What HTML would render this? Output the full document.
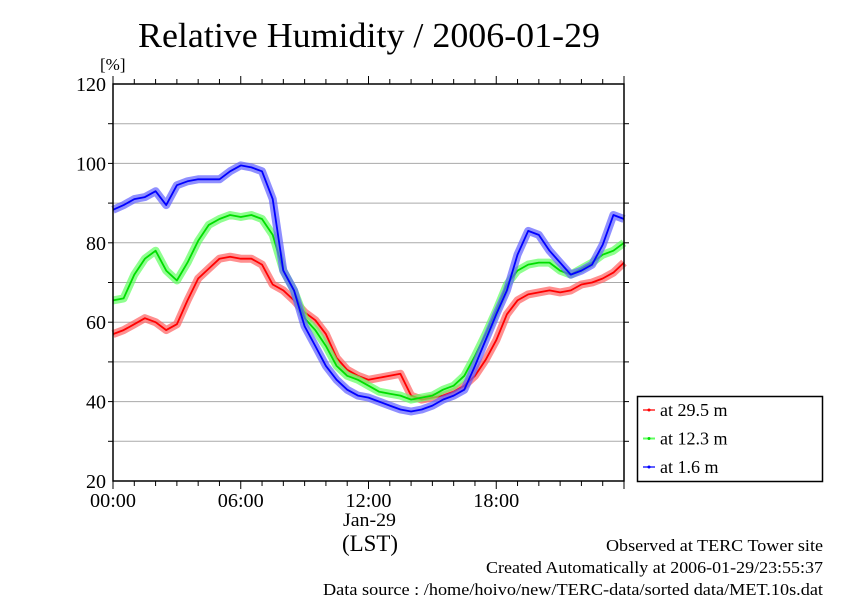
<!DOCTYPE html>
<html><head><meta charset="utf-8"><style>
body{margin:0;background:#fff;width:842px;height:595px;overflow:hidden}
svg{display:block;font-family:"Liberation Serif",serif}
</style></head><body>
<svg id="chart" width="842" height="595">
<text x="138" y="47" font-size="35" textLength="462" lengthAdjust="spacingAndGlyphs">Relative Humidity / 2006-01-29</text>
<text x="100" y="70" font-size="17">[%]</text>
<g id="grid"></g><g id="series"></g><g id="axes"></g>
<text x="343" y="526" font-size="19" textLength="53" lengthAdjust="spacingAndGlyphs">Jan-29</text>
<text x="342" y="551" font-size="23" textLength="56" lengthAdjust="spacingAndGlyphs">(LST)</text>
<text x="606" y="551" font-size="17" textLength="217" lengthAdjust="spacingAndGlyphs">Observed at TERC Tower site</text>
<text x="486" y="573" font-size="17" textLength="337" lengthAdjust="spacingAndGlyphs">Created Automatically at 2006-01-29/23:55:37</text>
<text x="323" y="595" font-size="17" textLength="500" lengthAdjust="spacingAndGlyphs">Data source : /home/hoivo/new/TERC-data/sorted  data/MET.10s.dat</text>
<g>
<rect x="637.5" y="396.5" width="185" height="85" fill="#fff" stroke="#000" stroke-width="1.5"/>
<g id="legend"></g>
</g>
</svg>
<script>
const hours=[0,0.5,1,1.5,2,2.5,3,3.5,4,4.5,5,5.5,6,6.5,7,7.5,8,8.5,9,9.5,10,10.5,11,11.5,12,12.5,13,13.5,14,14.5,15,15.5,16,16.5,17,17.5,18,18.5,19,19.5,20,20.5,21,21.5,22,22.5,23,23.5,24];
const rh29=[57,58,59.5,61,60,58,59.5,65.5,71,73.5,76,76.5,76,76,74.5,69.5,68,65.5,62.5,60.5,57,51,48,46.5,45.5,46,46.5,47,41.5,40.5,41,41.5,42.5,44,46.5,50.5,55.5,62,65.5,67,67.5,68,67.5,68,69.5,70,71,72.5,75];
const rh12=[65.5,66,72,76,78,73,70.5,75,80.5,84.5,86,87,86.5,87,86,82,73,68,61,58,54,49,46.5,45.5,44,42.5,42,41.5,40.5,41,41.5,43,44,46.5,51.5,57,63,69.5,73,74.5,75,75,73,72,73.5,75,77,78,80];
const rh16=[88.3,89.5,91,91.5,93,89.5,94.5,95.5,96,96,96,98,99.5,99,98,91,73,68,59,54,49,45.5,43,41.5,41,40,39,38,37.5,38,39,40.5,41.5,43,49,55.5,62,68,77,83,82,78,75,72,73,74.5,79.5,87,86];
const yTicks=[20,40,60,80,100,120];
const xTickLabels=["00:00","06:00","12:00","18:00"];
const seriesNames=["at 29.5 m","at 12.3 m","at 1.6 m"];

const X0=113,X1=624,Y0=481,Y1=84;
const xs=h=>X0+(X1-X0)*h/24;
const ys=v=>Y0-(Y0-Y1)*(v-20)/100;
const NS="http://www.w3.org/2000/svg";
function mk(tag,attrs,parent){const e=document.createElementNS(NS,tag);for(const k in attrs)e.setAttribute(k,attrs[k]);parent.appendChild(e);return e;}
const grid=document.getElementById('grid'),axes=document.getElementById('axes'),ser=document.getElementById('series'),leg=document.getElementById('legend');
for(let v=30;v<120;v+=10){
 const l=mk('line',{x1:X0,x2:X1,y1:ys(v),y2:ys(v),stroke:'#aaa','stroke-width':1},grid);
 
 
 mk('line',{x1:X0-5,x2:X0,y1:ys(v),y2:ys(v),stroke:'#000'},axes);
 mk('line',{x1:X1,x2:X1+5,y1:ys(v),y2:ys(v),stroke:'#000'},axes);
}
const frame=mk('rect',{x:X0,y:Y1,width:X1-X0,height:Y0-Y1,fill:'none',stroke:'#000','stroke-width':1.5},axes);


for(let h=0;h<=24;h++){
 const len=h%6===0?8:5;
 mk('line',{x1:xs(h),x2:xs(h),y1:Y0,y2:Y0+len,stroke:'#000'},axes);
 mk('line',{x1:xs(h),x2:xs(h),y1:Y1,y2:Y1-len,stroke:'#000'},axes);
}
yTicks.forEach(v=>{
 const t=mk('text',{x:X0-7,y:ys(v)+7,'font-size':20,'text-anchor':'end'},axes);
 t.textContent=v;
 
 
});
xTickLabels.forEach((s,i)=>{
 const t=mk('text',{x:xs(i*6)-23,y:507,'font-size':20,textLength:46,lengthAdjust:'spacingAndGlyphs'},axes);
 t.textContent=s;
 
 
});
const sets=[[rh29,'#ff6060','#ff0000','series-29-5m'],[rh12,'#60ff60','#00dd00','series-12-3m'],[rh16,'#6060ff','#0000ff','series-1-6m']];
sets.forEach(([d,light,dark,name])=>{
 const pts=d.map((v,i)=>xs(hours[i]).toFixed(1)+','+ys(v).toFixed(1)).join(' ');
 const g=mk('g',{},ser);
 
 
 mk('polyline',{points:pts,fill:'none',stroke:light,'stroke-width':8,'stroke-opacity':0.7,'stroke-linejoin':'round'},g);
 mk('polyline',{points:pts,fill:'none',stroke:dark,'stroke-width':1.8,'stroke-linejoin':'round'},g);
});
seriesNames.forEach((s,i)=>{
 const y=410+i*28.5;
 const g=mk('g',{},leg);
 
 
 mk('line',{x1:643,x2:655,y1:y,y2:y,stroke:sets[i][1],'stroke-width':2},g);
 mk('circle',{cx:649,cy:y,r:1.5,fill:sets[i][2]},g);
 const t=mk('text',{x:660,y:y+6,'font-size':18},g);
 t.textContent=s;
});
</script>
</body></html>
